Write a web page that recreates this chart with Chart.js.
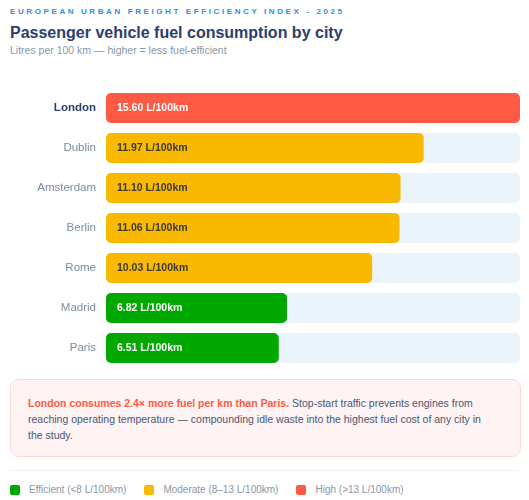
<!DOCTYPE html>
<html>
<head>
<meta charset="utf-8">
<script src="https://cdn.jsdelivr.net/npm/chart.js@4.4.1/dist/chart.umd.min.js"></script>
<style>
  html, body { margin:0; padding:0; background:#fff; }
  body { width:529px; height:500px; position:relative; overflow:hidden; font-family:"Liberation Sans", Arial, Helvetica, sans-serif; }
  .kicker { position:absolute; left:10px; top:7px; font-size:8px; font-weight:bold; letter-spacing:2.6px; color:#2f8fe0; white-space:nowrap; }
  .title { position:absolute; left:10px; top:24px; font-size:16px; font-weight:bold; color:#2c3e6b; white-space:nowrap; }
  .sub { position:absolute; left:10px; top:44px; font-size:10.5px; color:#8a96a8; white-space:nowrap; }
  #c { position:absolute; left:0; top:88px; }
  .callout { position:absolute; left:10px; top:379px; width:465px; height:44px; padding:15px 27px 17px 17px; background:#fff4f3; border:1px solid #fbd9d4; border-radius:9px; font-size:10.5px; line-height:16px; color:#4a5670; }
  .callout b { color:#ff5a43; }
  .sep { position:absolute; left:10px; top:470px; width:509px; height:1px; background:#edf2f8; }
  .legend { position:absolute; left:10px; top:484px; font-size:10px; color:#8a96a8; white-space:nowrap; display:flex; align-items:center; }
  .legend .sw { display:inline-block; width:10px; height:10px; border-radius:2px; margin-right:9px; }
  .legend .it { display:flex; align-items:center; margin-right:18px; }
</style>
</head>
<body>
<div class="kicker">EUROPEAN URBAN FREIGHT EFFICIENCY INDEX - 2025</div>
<div class="title">Passenger vehicle fuel consumption by city</div>
<div class="sub">Litres per 100 km — higher = less fuel-efficient</div>
<canvas id="c" width="529" height="280" style="width:529px;height:280px"></canvas>
<div class="callout"><b>London consumes 2.4× more fuel per km than Paris.</b> Stop-start traffic prevents engines from reaching operating temperature — compounding idle waste into the highest fuel cost of any city in the study.</div>
<div class="sep"></div>
<div class="legend" id="legend"></div>
<script>
const cities = ["London","Dublin","Amsterdam","Berlin","Rome","Madrid","Paris"];
const fuel = [15.60, 11.97, 11.10, 11.06, 10.03, 6.82, 6.51];
const maxFuel = 15.60;
const tierNames = ["Efficient (<8 L/100km)","Moderate (8–13 L/100km)","High (>13 L/100km)"];
const tierColors = ["#00a800","#f9b900","#ff5a43"];
const tierLimits = [8, 13];

function tier(v){ return v < tierLimits[0] ? 0 : (v <= tierLimits[1] ? 1 : 2); }
const barColors = fuel.map(v => tierColors[tier(v)]);
const track = cities.map(() => maxFuel);

const lg = document.getElementById('legend');
tierNames.forEach((n,i) => {
  const d = document.createElement('div'); d.className='it';
  d.innerHTML = '<span class="sw" style="background:'+tierColors[i]+'"></span>'+n;
  lg.appendChild(d);
});

const labelPlugin = {
  id:'barLabels',
  afterDatasetsDraw(chart){
    const ctx = chart.ctx;
    const meta = chart.getDatasetMeta(0);
    ctx.save();
    ctx.font = 'bold 10.5px "Liberation Sans", Arial, sans-serif';
    ctx.textBaseline = 'middle';
    ctx.textAlign = 'left';
    meta.data.forEach((bar,i) => {
      const t = tier(fuel[i]);
      ctx.fillStyle = t === 1 ? '#3b3a33' : '#ffffff';
      ctx.fillText(fuel[i].toFixed(2) + ' L/100km', bar.base + 11, bar.y + 0.5);
    });
    ctx.restore();
  }
};

new Chart(document.getElementById('c'), {
  type:'bar',
  data:{
    labels: cities,
    datasets:[
      { data: fuel, backgroundColor: barColors, borderRadius:5, borderSkipped:false, grouped:false, order:1, barPercentage:1, categoryPercentage:0.75 },
      { data: track, backgroundColor:'#ebf3fb', borderRadius:5, borderSkipped:false, grouped:false, order:2, barPercentage:1, categoryPercentage:0.75 }
    ]
  },
  options:{
    indexAxis:'y',
    responsive:false,
    animation:false,
    layout:{ padding:{ left:0, right:9, top:0, bottom:0 } },
    plugins:{ legend:{display:false}, tooltip:{enabled:false} },
    scales:{
      x:{ display:false, min:0, max:maxFuel },
      y:{
        grid:{ display:false, drawTicks:false }, border:{ display:false },
        afterFit(s){ s.width = 106; s.paddingTop = 0; s.paddingBottom = 0; },
        ticks:{
          padding:10,
          color: c => c.index === 0 ? '#2c3e6b' : '#7d8aa0',
          font: c => ({ family:'"Liberation Sans", Arial, sans-serif', size:11.5, weight: c.index === 0 ? 'bold' : 'normal' })
        }
      }
    }
  },
  plugins:[labelPlugin]
});
</script>
</body>
</html>
